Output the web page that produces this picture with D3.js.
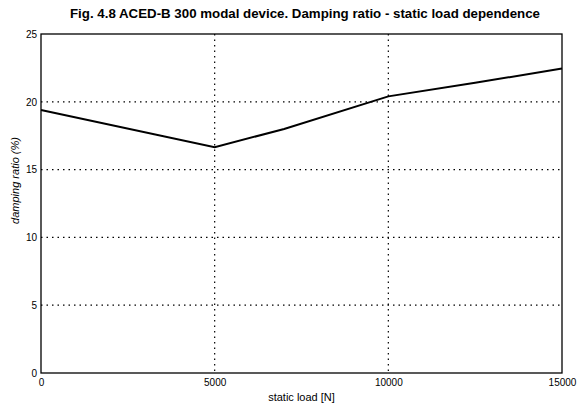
<!DOCTYPE html>
<html lang="en">
<head>
    <meta charset="utf-8">
    <script src="https://d3js.org/d3.v7.min.js"></script>
    <title>Fig. 4.8 Damping ratio - static load dependence</title>
    <style>
        body { margin: 0; background: #fff; }
        svg { display: block; }
        .tick text { font-family: "Liberation Sans Narrow", "Liberation Sans", Arial, sans-serif; font-size: 10px; fill: #000; }
    </style>
</head>
<body>
<svg id="chart" width="581" height="406"></svg>

<script>
    // values
    let static_load = [0, 5000, 7000, 10000, 12500, 15000];
    let damping_ratio = [19.4, 16.65, 18.0, 20.4, 21.4, 22.45];
    let x_ticks = [0, 5000, 10000, 15000];
    let y_ticks = [0, 5, 10, 15, 20, 25];

    var margin = {left: 41, right: 19, top: 34, bottom: 33},
        width = 581 - margin.left - margin.right,
        height = 406 - margin.top - margin.bottom;

    var svg = d3.select("#chart");
    var g = svg.append("g")
        .attr("transform", "translate(" + margin.left + "," + margin.top + ")");

    var x = d3.scaleLinear().domain([0, 15000]).range([0, width]);
    var y = d3.scaleLinear().domain([0, 25]).range([height, 0]);

    // dotted grid
    g.selectAll(".vgrid")
        .data(x_ticks.slice(1, -1))
        .enter().append("line")
        .attr("x1", d => x(d)).attr("x2", d => x(d))
        .attr("y1", 0).attr("y2", height)
        .attr("stroke", "#000").attr("stroke-width", 1.2)
        .attr("stroke-dasharray", "1.5,4");

    g.selectAll(".hgrid")
        .data(y_ticks.slice(1, -1))
        .enter().append("line")
        .attr("x1", 0).attr("x2", width)
        .attr("y1", d => y(d)).attr("y2", d => y(d))
        .attr("stroke", "#000").attr("stroke-width", 1.2)
        .attr("stroke-dasharray", "1.5,4");

    // axes
    var xAxis = g.append("g")
        .attr("transform", "translate(0," + height + ")")
        .call(d3.axisBottom(x).tickValues(x_ticks).tickSize(0).tickPadding(6).tickFormat(d3.format("d")));
    xAxis.select(".domain").remove();

    var yAxis = g.append("g")
        .call(d3.axisLeft(y).tickValues(y_ticks).tickSize(0).tickPadding(4));
    yAxis.select(".domain").remove();

    // box
    g.append("rect")
        .attr("x", 0).attr("y", 0)
        .attr("width", width).attr("height", height)
        .attr("fill", "none").attr("stroke", "#000").attr("stroke-width", 1.3);

    // data line
    var line = d3.line()
        .x((d, i) => x(static_load[i]))
        .y(d => y(d));

    g.append("path")
        .datum(damping_ratio)
        .attr("d", line)
        .attr("fill", "none")
        .attr("stroke", "#000")
        .attr("stroke-width", 2);

    // title and labels
    svg.append("text")
        .attr("x", 70).attr("y", 18)
        .attr("textLength", 470)
        .attr("lengthAdjust", "spacingAndGlyphs")
        .style("font-family", "'Liberation Sans', Arial, sans-serif")
        .style("font-weight", "bold")
        .style("font-size", "12px")
        .text("Fig. 4.8 ACED-B 300 modal device. Damping ratio - static load dependence");

    svg.append("text")
        .attr("x", margin.left + width / 2)
        .attr("y", 401)
        .attr("text-anchor", "middle")
        .style("font-family", "'Liberation Sans', Arial, sans-serif")
        .style("font-size", "11px")
        .text("static load [N]");

    svg.append("text")
        .attr("transform", "translate(19," + (margin.top + height / 2 - 23) + ") rotate(-90)")
        .attr("text-anchor", "middle")
        .style("font-family", "'Liberation Sans', Arial, sans-serif")
        .style("font-style", "italic")
        .style("font-size", "11px")
        .text("damping ratio (%)");
</script>
</body>
</html>
